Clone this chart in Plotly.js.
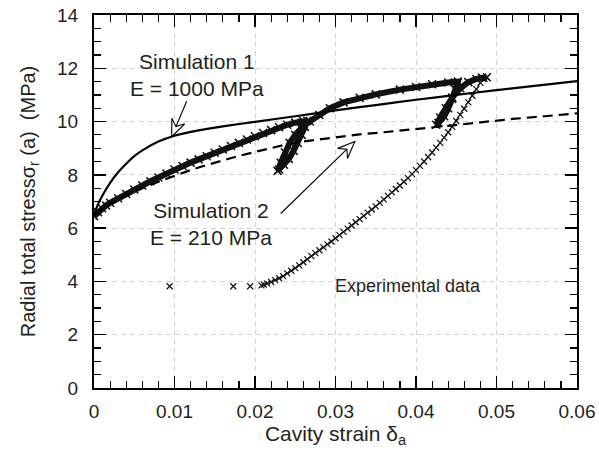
<!DOCTYPE html>
<html>
<head>
<meta charset="utf-8">
<script src="https://cdn.plot.ly/plotly-3.0.1.min.js"></script>
<style>html,body{margin:0;padding:0;background:#fff;} #chart{width:599px;height:455px;}</style>
</head>
<body>
<div id="chart"></div>
<script>
// ---- Data ----
// Simulation 1 (E = 1000 MPa), solid line
const sim1X = [0, 0.0005, 0.001, 0.002, 0.003, 0.004, 0.005, 0.006, 0.008, 0.010, 0.013, 0.016, 0.020, 0.025, 0.030, 0.035, 0.040, 0.045, 0.050, 0.055, 0.060];
const sim1Y = [6.5, 6.9, 7.2, 7.7, 8.1, 8.42, 8.7, 8.92, 9.25, 9.47, 9.67, 9.82, 9.99, 10.2, 10.42, 10.62, 10.82, 11.0, 11.18, 11.35, 11.52];

// Simulation 2 (E = 210 MPa), dashed line
const sim2X = [0, 0.001, 0.002, 0.003, 0.004, 0.005, 0.006, 0.008, 0.010, 0.012, 0.014, 0.016, 0.018, 0.020, 0.022, 0.024, 0.026, 0.028, 0.030, 0.033, 0.036, 0.040, 0.044, 0.048, 0.052, 0.056, 0.060];
const sim2Y = [6.5, 6.72, 6.9, 7.07, 7.22, 7.36, 7.5, 7.74, 7.96, 8.18, 8.37, 8.55, 8.71, 8.86, 9.01, 9.15, 9.25, 9.33, 9.41, 9.52, 9.6, 9.71, 9.84, 9.97, 10.1, 10.2, 10.31];

// Experimental data: loading / unloading / reloading cycles (dense band)
const bandX = [0, 0.0005, 0.001, 0.0015, 0.002, 0.003, 0.004, 0.005, 0.006, 0.007, 0.008, 0.009, 0.010, 0.011, 0.012, 0.013, 0.014, 0.015, 0.016, 0.017, 0.018, 0.019, 0.020, 0.021, 0.022, 0.023, 0.024, 0.025, 0.026, 0.0265,
  0.0262, 0.0258, 0.0253, 0.0248, 0.0242, 0.0236, 0.0230, 0.0228,
  0.0232, 0.0237, 0.0243, 0.0250, 0.0258, 0.0268, 0.0280, 0.0293, 0.0310, 0.0330, 0.0350, 0.0380, 0.0400, 0.0420, 0.0440, 0.0452,
  0.0449, 0.0445, 0.0440, 0.0435, 0.0428, 0.0425,
  0.0430, 0.0437, 0.0445, 0.0455, 0.0465, 0.0475, 0.0482, 0.0488];
const bandY = [6.45, 6.6, 6.75, 6.85, 6.95, 7.12, 7.28, 7.45, 7.6, 7.76, 7.9, 8.05, 8.2, 8.33, 8.46, 8.58, 8.7, 8.83, 8.95, 9.08, 9.2, 9.33, 9.45, 9.57, 9.68, 9.79, 9.88, 9.96, 10.02, 10.03,
  9.8, 9.5, 9.2, 8.9, 8.6, 8.38, 8.2, 8.15,
  8.45, 8.85, 9.2, 9.5, 9.77, 10.0, 10.25, 10.5, 10.72, 10.89, 11.02, 11.2, 11.3, 11.4, 11.47, 11.5,
  11.2, 10.85, 10.5, 10.2, 9.95, 9.88,
  10.15, 10.5, 10.9, 11.25, 11.48, 11.6, 11.65, 11.66];

// Experimental data: final unloading branch
const unloadX = [0.0488, 0.0485, 0.048, 0.0475, 0.047, 0.0465, 0.046, 0.0455, 0.045, 0.0445, 0.044, 0.0435, 0.043, 0.0425, 0.042, 0.0415, 0.041, 0.0405, 0.040, 0.0395, 0.039, 0.0385, 0.038, 0.0375, 0.037, 0.0365, 0.036, 0.0355, 0.035, 0.0345, 0.034, 0.0335, 0.033, 0.0325, 0.032, 0.0315, 0.031, 0.0305, 0.030, 0.0295, 0.029, 0.0285, 0.028, 0.0275, 0.027, 0.0265, 0.026, 0.0255, 0.025, 0.0245, 0.024, 0.0235, 0.023, 0.0225, 0.022, 0.0215, 0.0211, 0.0208];
const unloadY = [11.65, 11.6, 11.45, 11.22, 10.97, 10.72, 10.48, 10.25, 10.02, 9.8, 9.6, 9.4, 9.2, 9.02, 8.84, 8.67, 8.5, 8.34, 8.18, 8.03, 7.88, 7.74, 7.6, 7.47, 7.34, 7.21, 7.08, 6.95, 6.82, 6.7, 6.58, 6.46, 6.34, 6.22, 6.1, 5.98, 5.86, 5.74, 5.62, 5.5, 5.39, 5.28, 5.17, 5.06, 4.95, 4.83, 4.72, 4.6, 4.5, 4.4, 4.3, 4.2, 4.12, 4.05, 3.98, 3.92, 3.88, 3.85];

// Experimental data: isolated points at the end
const tailX = [0.0194, 0.0173, 0.0094];
const tailY = [3.82, 3.82, 3.82];

// Axis ticks
const xTicks = [0, 0.01, 0.02, 0.03, 0.04, 0.05, 0.06];
const xTickText = ['0', '0.01', '0.02', '0.03', '0.04', '0.05', '0.06'];
const yTicks = [0, 2, 4, 6, 8, 10, 12, 14];

// ---- Layout geometry ----
const W = 599, H = 455;
const M = {l: 94, r: 22, t: 15, b: 67};
const XR = [0, 0.06], YR = [0, 14];
const PX = (W - M.l - M.r) / (XR[1] - XR[0]);
const PY = (H - M.t - M.b) / (YR[1] - YR[0]);

const FONT = 'Liberation Sans, Arial, Helvetica, sans-serif';
const TXT = '#231f20';

// hollow notched arrow built in pixel space, returned in data units
function arrow(tail, tip) {
  const dx = (tip[0] - tail[0]) * PX, dy = (tip[1] - tail[1]) * PY;
  const L = Math.hypot(dx, dy), ux = dx / L, uy = dy / L;
  const nx = -uy, ny = ux;
  const h = 17, w = 7, notch = 11;
  const toD = (px, py) => [tip[0] + px / PX, tip[1] + py / PY];
  const left = toD(-ux * h + nx * w, -uy * h + ny * w);
  const right = toD(-ux * h - nx * w, -uy * h - ny * w);
  const nb = toD(-ux * notch, -uy * notch);
  const shapes = [];
  shapes.push({type: 'line', xref: 'x', yref: 'y', x0: tail[0], y0: tail[1], x1: nb[0], y1: nb[1],
    line: {color: '#000', width: 1.1}});
  shapes.push({type: 'path', xref: 'x', yref: 'y',
    path: `M ${tip[0]} ${tip[1]} L ${left[0]} ${left[1]} L ${nb[0]} ${nb[1]} L ${right[0]} ${right[1]} Z`,
    fillcolor: '#fff', line: {color: '#000', width: 1.1}});
  return shapes;
}

const traces = [
  {x: bandX, y: bandY, mode: 'lines+markers', type: 'scatter',
   line: {color: '#111', width: 6},
   marker: {symbol: 'x-thin', size: 8, color: '#111', line: {color: '#111', width: 1.5}}},
  {x: unloadX, y: unloadY, mode: 'lines+markers', type: 'scatter',
   line: {color: '#111', width: 1},
   marker: {symbol: 'x-thin', size: 6, color: '#111', line: {color: '#111', width: 1.2}}},
  {x: tailX, y: tailY, mode: 'markers', type: 'scatter',
   marker: {symbol: 'x-thin', size: 6, color: '#111', line: {color: '#111', width: 1.2}}},
  {x: sim1X, y: sim1Y, mode: 'lines', type: 'scatter', line: {color: '#000', width: 2.2, shape: 'spline', smoothing: 0.6}},
  {x: sim2X, y: sim2Y, mode: 'lines', type: 'scatter', line: {color: '#000', width: 2.2, dash: '10px,6px'}}
];

const axisCommon = {
  showline: true, linecolor: '#000', linewidth: 2, mirror: 'ticks',
  ticks: 'inside', ticklen: 12, tickwidth: 1.4, tickcolor: '#000',
  showgrid: true, gridcolor: '#d2d2d2', gridwidth: 1, griddash: '5px,4px',
  zeroline: false, fixedrange: true,
  tickfont: {family: FONT, size: 19, color: TXT}
};

const layout = {
  width: W, height: H,
  margin: M,
  paper_bgcolor: '#fff', plot_bgcolor: '#fff',
  showlegend: false,
  font: {family: FONT, color: TXT},
  xaxis: Object.assign({}, axisCommon, {
    range: XR, tickvals: xTicks, ticktext: xTickText,
    minor: {dtick: 0.002, tick0: 0, ticks: 'inside', ticklen: 7, tickwidth: 1.2, tickcolor: '#000', showgrid: false},
    ticklabelstandoff: 5,
    title: {text: 'Cavity strain δ<sub>a</sub>', font: {family: FONT, size: 21, color: TXT}, standoff: 4}
  }),
  yaxis: Object.assign({}, axisCommon, {
    range: YR, tickvals: yTicks,
    minor: {dtick: 0.5, tick0: 0, ticks: 'inside', ticklen: 7, tickwidth: 1.2, tickcolor: '#000', showgrid: false},
    ticklabelstandoff: 10,
    title: {text: 'Radial total stressσ<sub>r</sub> (a)\u00a0\u00a0(MPa)', font: {family: FONT, size: 20, color: TXT}, standoff: 16}
  }),
  annotations: [
    {xref: 'x', yref: 'y', x: 0.0128, y: 11.73, text: 'Simulation 1<br>E = 1000 MPa', showarrow: false,
     font: {family: FONT, size: 21, color: TXT}, align: 'center'},
    {xref: 'x', yref: 'y', x: 0.0145, y: 6.15, text: 'Simulation 2<br>E = 210 MPa', showarrow: false,
     font: {family: FONT, size: 21, color: TXT}, align: 'center'},
    {xref: 'x', yref: 'y', x: 0.0297, y: 3.82, text: 'Experimental data', showarrow: false, xanchor: 'left',
     font: {family: FONT, size: 18, color: TXT}}
  ],
  shapes: [].concat(
    arrow([0.01151, 10.76], [0.00965, 9.43]),
    arrow([0.0232, 6.55], [0.0324, 9.25])
  )
};

Plotly.newPlot('chart', traces, layout, {staticPlot: true, displayModeBar: false});
</script>
</body>
</html>
